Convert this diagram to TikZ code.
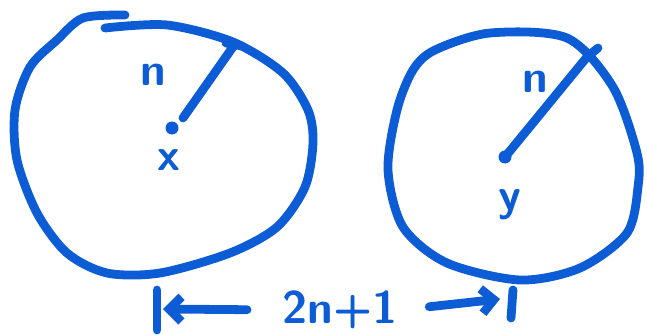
\documentclass[tikz,border=0pt]{standalone}
\usetikzlibrary{arrows.meta}
\definecolor{pluma}{RGB}{12,92,214}
\tikzset{
  trazo/.style={draw=pluma, line width=5pt, line cap=round, line join=round},
  letra/.style={text=pluma, font=\fontsize{26}{30}\selectfont\sffamily\bfseries, inner sep=1pt},
  flecha/.style={trazo, -{Straight Barb[length=7pt, width=14pt, line width=5pt]}}
}
\begin{document}
\begin{tikzpicture}[x=0.02cm, y=-0.02cm]
  \useasboundingbox (0,0) rectangle (647,335);
  % circulo izquierdo
  \draw[trazo] plot[smooth] coordinates {(105,28) (167,25) (233,42) (283,73) (308,110)
    (313,143) (305,187) (277,227) (230,253) (160,273) (107,273) (67,253) (37,213)
    (17,160) (15,110) (30,67) (57,40) (83,18) (125,15)};
  \coordinate (cx) at (172,128);
  \coordinate (bx) at (235,44);
  \draw[trazo] (bx) -- (183,118);
  \draw[trazo] (226,43) -- (242,46);
  \fill[pluma] (cx) circle (6.5);
  \node[letra] (n1) at (153,75) {n};
  \node[letra] (x) at (169,160) {x};
  % circulo derecho
  \draw[trazo] plot[smooth cycle] coordinates {(435,50) (490,33) (567,38) (613,87)
    (637,153) (638,187) (627,233) (580,268) (520,280) (447,263) (403,227)
    (388,170) (397,110) (413,70)};
  \coordinate (cy) at (505,157);
  \coordinate (by) at (598,48);
  \draw[trazo] (cy) -- (587,57) -- (by);
  \fill[pluma] (cy) circle (6.5);
  \node[letra] (n2) at (535,82) {n};
  \node[letra] (y) at (510,205) {y};
  % distancia
  \node[letra] (len) at (340,310) {2n+1};
  \coordinate (bl) at (163,309);
  \coordinate (br) at (500,299);
  \draw[trazo] (157,290) -- (157,330);
  \draw[trazo] (513,290) -- (511,318);
  \draw[flecha, shorten <=19pt] (len.west) -- (bl);
  \draw[flecha, shorten <=17pt] (len.east) -- (br);
\end{tikzpicture}
\end{document}
